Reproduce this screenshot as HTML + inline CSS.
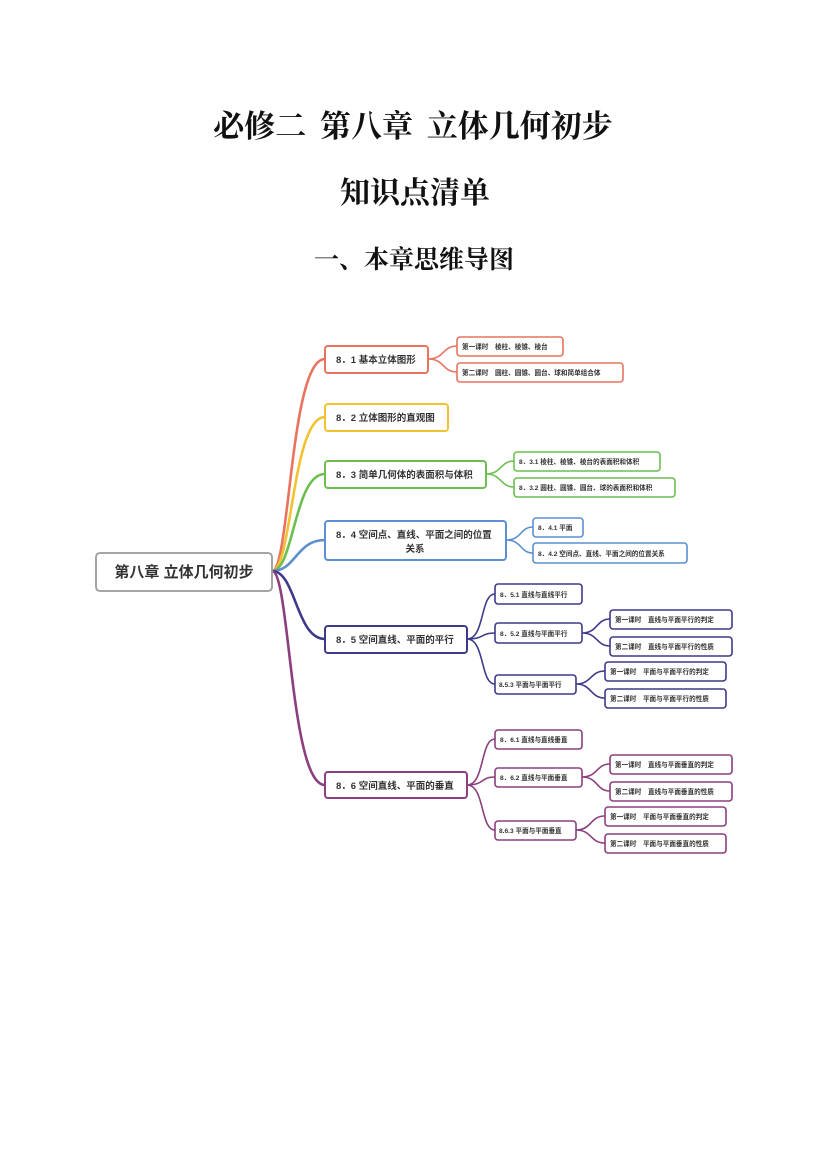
<!DOCTYPE html>
<html><head><meta charset="utf-8"><style>
html,body{margin:0;padding:0;background:#fff;}
body{width:827px;height:1169px;overflow:hidden;}
svg text{font-family:"Liberation Sans","Noto Sans CJK SC",sans-serif;fill:#333;font-weight:bold;}
svg text.t{font-family:"Liberation Serif","Noto Serif CJK SC",serif;fill:#111;font-weight:bold;}
</style></head><body>
<svg width="827" height="1169" viewBox="0 0 827 1169" xmlns="http://www.w3.org/2000/svg">
<text class="t" x="413" y="137" font-size="31" text-anchor="middle" word-spacing="6">必修二 第八章 立体几何初步</text>
<text class="t" x="415" y="203" font-size="30" text-anchor="middle">知识点清单</text>
<text class="t" x="414" y="268" font-size="25" text-anchor="middle">一、本章思维导图</text>

<g fill="none" stroke-width="2.6" stroke-linecap="round">
<path d="M272 571 C290 571 290 359 325 359" stroke="#e8735f"/>
<path d="M272 571 C292 571 292 417 325 417" stroke="#f2c230"/>
<path d="M272 571 C294 571 294 474 325 474" stroke="#6cbf4f"/>
<path d="M272 571 C296 571 296 540 325 540" stroke="#5b8fd0"/>
<path d="M272 571 C296 571 296 639 325 639" stroke="#3d3a8a"/>
<path d="M272 571 C290 571 290 785 325 785" stroke="#8b3f7e"/>
</g>
<g fill="none" stroke-width="1.6">
<path d="M428 359 C445 359 442 346 457 346 M428 359 C445 359 442 372 457 372" stroke="#e8735f"/>
<path d="M486 474 C502 474 500 461 514 461 M486 474 C502 474 500 487 514 487" stroke="#6cbf4f"/>
<path d="M506 540 C522 540 520 527 533 527 M506 540 C522 540 520 553 533 553" stroke="#5b8fd0"/>
<g stroke="#3d3a8a">
<path d="M467 639 C485 639 480 594 495 594 M467 639 C485 639 480 633 495 633 M467 639 C485 639 480 684 495 684"/>
<path d="M582 633 C598 633 596 619 610 619 M582 633 C598 633 596 646 610 646"/>
<path d="M576 684 C592 684 590 671 605 671 M576 684 C592 684 590 698 605 698"/>
</g>
<g stroke="#8b3f7e">
<path d="M467 785 C485 785 480 739 495 739 M467 785 C485 785 480 777 495 777 M467 785 C485 785 480 830 495 830"/>
<path d="M582 777 C598 777 596 764 610 764 M582 777 C598 777 596 791 610 791"/>
<path d="M576 830 C592 830 590 816 605 816 M576 830 C592 830 590 843 605 843"/>
</g>
</g>

<rect x="96" y="553" width="176" height="38" rx="4" fill="#fff" stroke="#9a9a9a" stroke-width="1.8"/>
<text x="184" y="577" font-size="15" text-anchor="middle">第八章 立体几何初步</text>

<g fill="#fff" stroke-width="2">
<rect x="325" y="346" width="103" height="27" rx="3" stroke="#e8735f"/>
<rect x="325" y="404" width="123" height="27" rx="3" stroke="#f2c230"/>
<rect x="325" y="461" width="161" height="27" rx="3" stroke="#6cbf4f"/>
<rect x="325" y="521" width="181" height="39" rx="3" stroke="#5b8fd0"/>
<rect x="325" y="626" width="142" height="27" rx="3" stroke="#3d3a8a"/>
<rect x="325" y="772" width="142" height="26" rx="3" stroke="#8b3f7e"/>
</g>
<g fill="#fff" stroke-width="1.6">
<rect x="457" y="337" width="106" height="19" rx="3" stroke="#e8735f"/>
<rect x="457" y="363" width="166" height="19" rx="3" stroke="#e8735f"/>
<rect x="514" y="452" width="146" height="19" rx="3" stroke="#6cbf4f"/>
<rect x="514" y="478" width="161" height="19" rx="3" stroke="#6cbf4f"/>
<rect x="533" y="518" width="50" height="19" rx="3" stroke="#5b8fd0"/>
<rect x="533" y="543" width="154" height="20" rx="3" stroke="#5b8fd0"/>
<g stroke="#3d3a8a">
<rect x="495" y="584" width="87" height="20" rx="3"/>
<rect x="495" y="623" width="87" height="20" rx="3"/>
<rect x="495" y="675" width="81" height="19" rx="3"/>
<rect x="610" y="610" width="122" height="19" rx="3"/>
<rect x="610" y="637" width="122" height="19" rx="3"/>
<rect x="605" y="662" width="121" height="19" rx="3"/>
<rect x="605" y="689" width="121" height="19" rx="3"/>
</g>
<g stroke="#8b3f7e">
<rect x="495" y="730" width="87" height="19" rx="3"/>
<rect x="495" y="768" width="87" height="19" rx="3"/>
<rect x="495" y="821" width="81" height="19" rx="3"/>
<rect x="610" y="755" width="122" height="19" rx="3"/>
<rect x="610" y="782" width="122" height="19" rx="3"/>
<rect x="605" y="807" width="121" height="19" rx="3"/>
<rect x="605" y="834" width="121" height="19" rx="3"/>
</g>
</g>

<g font-size="9.5">
<text x="336" y="363">8．1 基本立体图形</text>
<text x="336" y="421">8．2 立体图形的直观图</text>
<text x="336" y="478">8．3 简单几何体的表面积与体积</text>
<text x="336" y="538">8．4 空间点、直线、平面之间的位置</text>
<text x="415" y="552" text-anchor="middle">关系</text>
<text x="336" y="643">8．5 空间直线、平面的平行</text>
<text x="336" y="789">8．6 空间直线、平面的垂直</text>
</g>
<g font-size="6.6">
<text x="462" y="349">第一课时　棱柱、棱锥、棱台</text>
<text x="462" y="375">第二课时　圆柱、圆锥、圆台、球和简单组合体</text>
<text x="519" y="464">8．3.1 棱柱、棱锥、棱台的表面积和体积</text>
<text x="519" y="490">8．3.2 圆柱、圆锥、圆台、球的表面积和体积</text>
<text x="538" y="530">8．4.1 平面</text>
<text x="538" y="556">8．4.2 空间点、直线、平面之间的位置关系</text>
<text x="500" y="597">8．5.1 直线与直线平行</text>
<text x="500" y="636">8．5.2 直线与平面平行</text>
<text x="499" y="687">8.5.3 平面与平面平行</text>
<text x="615" y="622">第一课时　直线与平面平行的判定</text>
<text x="615" y="649">第二课时　直线与平面平行的性质</text>
<text x="610" y="674">第一课时　平面与平面平行的判定</text>
<text x="610" y="701">第二课时　平面与平面平行的性质</text>
<text x="500" y="742">8．6.1 直线与直线垂直</text>
<text x="500" y="780">8．6.2 直线与平面垂直</text>
<text x="499" y="833">8.6.3 平面与平面垂直</text>
<text x="615" y="767">第一课时　直线与平面垂直的判定</text>
<text x="615" y="794">第二课时　直线与平面垂直的性质</text>
<text x="610" y="819">第一课时　平面与平面垂直的判定</text>
<text x="610" y="846">第二课时　平面与平面垂直的性质</text>
</g>
</svg>
</body></html>
